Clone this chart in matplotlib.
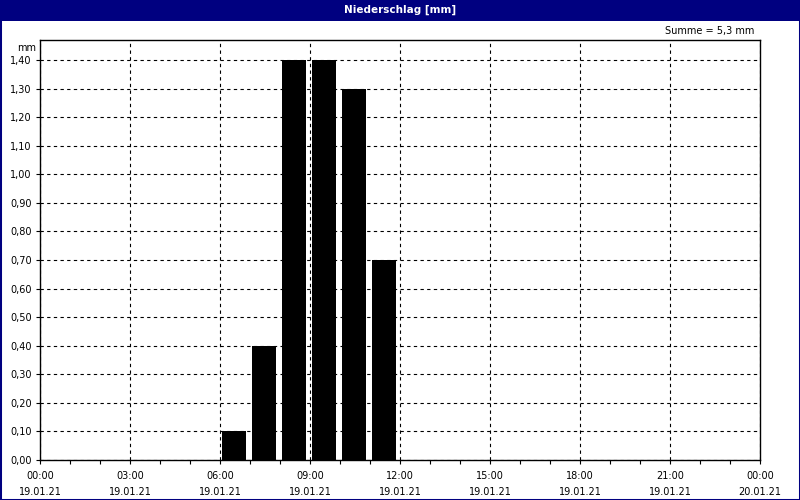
import matplotlib.pyplot as plt
from matplotlib.patches import Rectangle
from matplotlib.ticker import MultipleLocator, FuncFormatter

# hourly precipitation (start hour -> mm)
HOURS = [6, 7, 8, 9, 10, 11]
RAIN = [0.1, 0.4, 1.4, 1.4, 1.3, 0.7]
XTICK_LABELS = ["00:00\n19.01.21", "03:00\n19.01.21", "06:00\n19.01.21",
                "09:00\n19.01.21", "12:00\n19.01.21", "15:00\n19.01.21",
                "18:00\n19.01.21", "21:00\n19.01.21", "00:00\n20.01.21"]
TITLE = "Niederschlag [mm]"
TOTAL = "Summe = 5,3 mm"

NAVY = "#000080"
FS = 7

fig = plt.figure(figsize=(8, 5), dpi=100)
fig.patch.set_facecolor("white")

# title bar and border
fig.patches.append(Rectangle((0, 1 - 21 / 500), 1, 21 / 500, transform=fig.transFigure,
                             facecolor=NAVY, edgecolor="none", zorder=0))
fig.patches.append(Rectangle((0, 0), 1, 1, transform=fig.transFigure,
                             facecolor="none", edgecolor=NAVY, linewidth=2.2, zorder=5))
fig.text(0.5, 1 - 10 / 500, TITLE, color="white", fontsize=7.5, fontweight="bold",
         ha="center", va="center")
fig.text(754 / 800, 1 - 31 / 500, TOTAL, fontsize=FS, ha="right", va="center")

ax = fig.add_axes([40 / 800, 40 / 500, 720 / 800, 420 / 500])
ax.bar([h + 0.07 for h in HOURS], RAIN, width=0.8, align="edge", color="black", zorder=3)

ax.set_xlim(0, 24)
ax.set_ylim(0, 1.47)
ax.xaxis.set_minor_locator(MultipleLocator(1))
ax.set_xticks(range(0, 25, 3))
ax.set_xticklabels(XTICK_LABELS, linespacing=1.75)
ax.yaxis.set_major_locator(MultipleLocator(0.1))
ax.yaxis.set_major_formatter(FuncFormatter(lambda v, p: f"{v:.2f}".replace(".", ",")))
ax.tick_params(axis="both", labelsize=FS, length=3, width=0.8, colors="black", pad=3)
ax.tick_params(axis="x", which="minor", length=3, width=0.8)
ax.tick_params(axis="x", pad=5)
ax.grid(True, which="major", color="black", linestyle=(0, (3, 3)), linewidth=0.8)
ax.set_axisbelow(True)
for s in ax.spines.values():
    s.set_linewidth(1)
ax.text(-0.006, 1.47 - 0.01, "mm", transform=ax.get_yaxis_transform(), fontsize=FS,
        ha="right", va="top")

fig.savefig("out.png", dpi=100)
